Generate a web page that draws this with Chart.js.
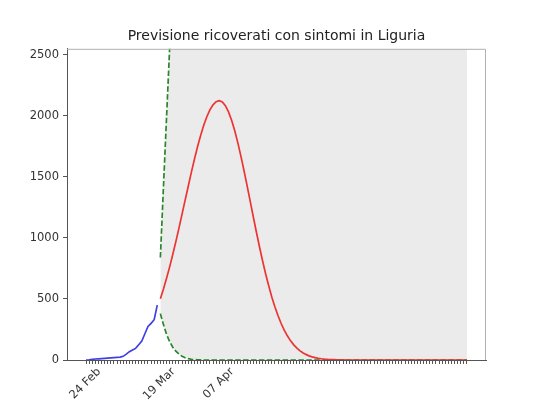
<!DOCTYPE html>
<html>
<head>
<meta charset="utf-8">
<title>Previsione ricoverati con sintomi in Liguria</title>
<script src="https://cdn.jsdelivr.net/npm/chart.js@4.4.1/dist/chart.umd.min.js"></script>
<style>
  html, body { margin: 0; padding: 0; background: #fff; }
  #wrap { width: 540px; height: 405px; }
</style>
</head>
<body>
<div id="wrap"><canvas id="chart" width="540" height="405"></canvas></div>
<script>
// ------------------------------
// DATI (giorni contati dal 24 Feb)
// ------------------------------
const firstObservedDay = 0;
const firstForecastDay = 24;

// ricoverati osservati, 24 Feb - 18 Mar
const observed = [
    0, 2, 5, 8, 10, 12, 14, 16, 18, 20,
    22, 23, 30, 48, 68, 82, 95, 125, 155, 215,
    275, 300, 330, 450
];

// previsione (curva rossa), 19 Mar in poi
const forecast = [
    502, 581, 669, 763, 864, 970, 1081, 1195, 1310, 1424,
    1537, 1645, 1747, 1840, 1923, 1993, 2050, 2091, 2117, 2125,
    2115, 2084, 2033, 1965, 1880, 1781, 1671, 1553, 1429, 1302,
    1174, 1049, 928, 813, 705, 606, 515, 434, 362, 299,
    245, 198, 159, 126, 99, 77, 60, 46, 34, 26,
    19, 14, 10, 7, 5, 4, 3, 2, 1, 1,
    0, 0, 0, 0, 0, 0, 0, 0, 0, 0,
    0, 0, 0, 0, 0, 0, 0, 0, 0, 0,
    0, 0, 0, 0, 0, 0, 0, 0, 0, 0,
    0, 0, 0, 0, 0, 0, 0, 0, 0, 0
];

// limite superiore (verde tratteggiato, esce subito dal grafico)
const upperBound = [
    840, 1420, 1990, 2560, 3400, 4500, 6000, 8000, 10500, 14000,
    18500, 24000, 31000, 40000, 52000, 67000, 85000, 100000, 100000, 100000,
    100000, 100000, 100000, 100000, 100000, 100000, 100000, 100000, 100000, 100000,
    100000, 100000, 100000, 100000, 100000, 100000, 100000, 100000, 100000, 100000,
    100000, 100000, 100000, 100000, 100000, 100000, 100000, 100000, 100000, 100000,
    100000, 100000, 100000, 100000, 100000, 100000, 100000, 100000, 100000, 100000,
    100000, 100000, 100000, 100000, 100000, 100000, 100000, 100000, 100000, 100000,
    100000, 100000, 100000, 100000, 100000, 100000, 100000, 100000, 100000, 100000,
    100000, 100000, 100000, 100000, 100000, 100000, 100000, 100000, 100000, 100000,
    100000, 100000, 100000, 100000, 100000, 100000, 100000, 100000, 100000, 100000
];

// limite inferiore (verde tratteggiato)
const lowerBound = [
    380, 290, 210, 150, 105, 72, 48, 30, 18, 11,
    6, 3, 2, 1, 0, 0, 0, 0, 0, 0,
    0, 0, 0, 0, 0, 0, 0, 0, 0, 0,
    0, 0, 0, 0, 0, 0, 0, 0, 0, 0,
    0, 0, 0, 0, 0, 0, 0, 0, 0, 0,
    0, 0, 0, 0, 0, 0, 0, 0, 0, 0,
    0, 0, 0, 0, 0, 0, 0, 0, 0, 0,
    0, 0, 0, 0, 0, 0, 0, 0, 0, 0,
    0, 0, 0, 0, 0, 0, 0, 0, 0, 0,
    0, 0, 0, 0, 0, 0, 0, 0, 0, 0
];

// etichette asse x
const labelDays = [0, 24, 43];
const labelTexts = ['24 Feb', '19 Mar', '07 Apr'];
const yTickValues = [0, 500, 1000, 1500, 2000, 2500];
const yMax = 2550;

// ------------------------------
// HELPERS
// ------------------------------
function toPoints(values, startDay) {
    return values.map((v, i) => ({ x: startDay + i, y: v }));
}

const lastDay = firstForecastDay + forecast.length - 1;
const xMargin = (lastDay - firstObservedDay) * 0.05;

const framePlugin = {
    id: 'frame',
    afterDatasetsDraw(chart) {
        const { ctx, chartArea: a } = chart;
        ctx.save();
        ctx.strokeStyle = '#b0b0b0';
        ctx.lineWidth = 1;
        ctx.beginPath();
        ctx.moveTo(a.left, a.top + 0.5);
        ctx.lineTo(a.right - 0.5, a.top + 0.5);
        ctx.lineTo(a.right - 0.5, a.bottom);
        ctx.stroke();
        ctx.restore();
    }
};

Chart.defaults.font.family = 'DejaVu Sans';
Chart.defaults.color = '#333';

new Chart(document.getElementById('chart'), {
    type: 'line',
    data: {
        datasets: [
            {
                label: 'osservati',
                data: toPoints(observed, firstObservedDay),
                borderColor: '#3f3fe6',
                borderWidth: 1.7,
                pointRadius: 0,
                fill: false
            },
            {
                label: 'previsione',
                data: toPoints(forecast, firstForecastDay),
                borderColor: '#ee3333',
                borderWidth: 1.7,
                pointRadius: 0,
                fill: false
            },
            {
                label: 'limite superiore',
                data: toPoints(upperBound, firstForecastDay),
                borderColor: '#2a862a',
                borderWidth: 1.7,
                borderDash: [5.5, 2.4],
                pointRadius: 0,
                backgroundColor: '#ebebeb',
                fill: '+1'
            },
            {
                label: 'limite inferiore',
                data: toPoints(lowerBound, firstForecastDay),
                borderColor: '#2a862a',
                borderWidth: 1.7,
                borderDash: [5.5, 2.4],
                pointRadius: 0,
                fill: false
            }
        ]
    },
    options: {
        responsive: false,
        animation: false,
        devicePixelRatio: 1,
        layout: { padding: { left: 0, right: 54, top: 0, bottom: 0 } },
        plugins: {
            legend: { display: false },
            tooltip: { enabled: false },
            filler: { drawTime: 'beforeDatasetsDraw' },
            title: {
                display: true,
                fullSize: false,
                text: 'Previsione ricoverati con sintomi in Liguria',
                color: '#222',
                font: { size: 14, weight: 'normal' },
                padding: { top: 28, bottom: 4 }
            }
        },
        scales: {
            x: {
                type: 'linear',
                min: firstObservedDay - xMargin,
                max: lastDay + xMargin,
                afterBuildTicks: scale => {
                    const ticks = [];
                    for (let d = firstObservedDay; d <= lastDay; d++) ticks.push({ value: d });
                    scale.ticks = ticks;
                },
                afterFit: scale => {
                    scale.height = 45;
                    scale.paddingLeft = 0;
                    scale.paddingRight = 0;
                },
                grid: {
                    drawOnChartArea: false,
                    drawTicks: true,
                    tickLength: 4,
                    tickColor: '#555'
                },
                border: { display: true, color: '#555', width: 1 },
                ticks: {
                    autoSkip: false,
                    minRotation: 45,
                    maxRotation: 45,
                    labelOffset: 13,
                    padding: 1,
                    color: '#333',
                    font: { size: 11.5 },
                    callback: value => {
                        const i = labelDays.indexOf(value);
                        return i >= 0 ? labelTexts[i] : '';
                    }
                }
            },
            y: {
                min: 0,
                max: yMax,
                afterBuildTicks: scale => {
                    scale.ticks = yTickValues.map(v => ({ value: v }));
                },
                afterFit: scale => {
                    scale.width = 67;
                },
                grid: {
                    drawOnChartArea: false,
                    drawTicks: true,
                    tickLength: 4,
                    tickColor: '#555'
                },
                border: { display: true, color: '#555', width: 1 },
                ticks: {
                    padding: 4,
                    color: '#333',
                    font: { size: 11.5 },
                    callback: value => String(value)
                }
            }
        }
    },
    plugins: [framePlugin]
});
</script>
</body>
</html>
